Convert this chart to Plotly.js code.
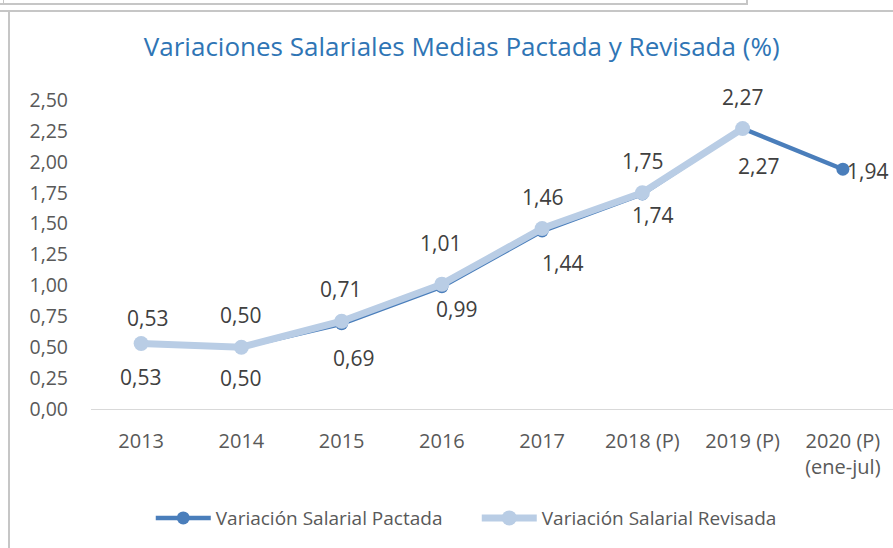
<!DOCTYPE html>
<html>
<head>
<meta charset="utf-8">
<script src="https://cdn.plot.ly/plotly-3.0.1.min.js"></script>
<style>
  html, body { margin: 0; padding: 0; background: #fff; }
  #wrap { position: relative; width: 893px; height: 548px; overflow: hidden; }
  #chart { position: absolute; left: 0; top: 0; width: 893px; height: 548px; }
  .bd { position: absolute; background: #c6c6c6; }
</style>
</head>
<body>
<div id="wrap">
  <div id="chart"></div>
  <div class="bd" style="left:0;top:3px;width:747px;height:2px;"></div>
  <div class="bd" style="left:746px;top:0;width:2px;height:5px;"></div>
  <div class="bd" style="left:3px;top:0;width:1px;height:5px;"></div>
  <div class="bd" style="left:0;top:10px;width:893px;height:2px;"></div>
  <div class="bd" style="left:8px;top:10px;width:2px;height:538px;"></div>
</div>
<script>
// ---- data ----
const categories = ["2013", "2014", "2015", "2016", "2017", "2018 (P)", "2019 (P)", "2020 (P)<br>(ene-jul)"];
const pactada   = [0.53, 0.50, 0.69, 0.99, 1.44, 1.74, 2.27, 1.94];
const revisada  = [0.53, 0.50, 0.71, 1.01, 1.46, 1.75, 2.27, null];
const yTicks = [0, 0.25, 0.5, 0.75, 1, 1.25, 1.5, 1.75, 2, 2.25, 2.5];
const seriesNames = ["Variación Salarial Pactada", "Variación Salarial Revisada"];
const titleText = "Variaciones Salariales Medias Pactada y Revisada (%)";

// ---- label placement (style) ----
const pactShift = [[-1,-34],[-1,-31],[12,-34],[15,-22],[20,-32],[10,-21],[16,-38],[25,-2]];
const revShift  = [[6,25],[-1,32],[-1,32],[-1,41],[0,32],[0,32],[0,31],null];

const fmt = v => v.toFixed(2).replace('.', ',');
const FONT = '"Open Sans", sans-serif';
const idx = categories.map((c, i) => i);

const annotations = [];
pactada.forEach((v, i) => {
  if (v == null) return;
  annotations.push({x: i, y: v, xref: 'x', yref: 'y', text: fmt(v), showarrow: false,
    xshift: pactShift[i][0], yshift: pactShift[i][1],
    font: {family: FONT, size: 21, color: '#404040'}});
});
revisada.forEach((v, i) => {
  if (v == null) return;
  annotations.push({x: i, y: v, xref: 'x', yref: 'y', text: fmt(v), showarrow: false,
    xshift: revShift[i][0], yshift: revShift[i][1],
    font: {family: FONT, size: 21, color: '#404040'}});
});

const traces = [
  {x: idx, y: pactada, name: seriesNames[0], type: 'scatter', mode: 'lines+markers',
   line: {color: '#4a7ebb', width: 4.5}, marker: {color: '#4a7ebb', size: 13},
   hoverinfo: 'skip', cliponaxis: false},
  {x: idx, y: revisada, name: seriesNames[1], type: 'scatter', mode: 'lines+markers',
   line: {color: '#b9cde5', width: 7}, marker: {color: '#b9cde5', size: 15},
   hoverinfo: 'skip', cliponaxis: false, connectgaps: false}
];

const layout = {
  width: 893, height: 548,
  margin: {l: 91, r: 0, t: 100, b: 139},
  paper_bgcolor: 'rgba(0,0,0,0)', plot_bgcolor: 'rgba(0,0,0,0)',
  font: {family: FONT, color: '#595959'},
  title: {text: titleText, x: 0.517, xref: 'container', xanchor: 'center',
          y: 1 - 47/548, yref: 'container', yanchor: 'middle',
          font: {family: FONT, size: 26, color: '#2f75b5'}},
  xaxis: {type: 'linear', range: [-0.5, 7.5], tickmode: 'array', tickvals: idx, ticktext: categories,
          showgrid: false, zeroline: false, showline: true, linecolor: '#d9d9d9', linewidth: 1,
          ticks: '', tickfont: {family: FONT, size: 20, color: '#595959'}, ticklabelstandoff: 14,
          fixedrange: true},
  yaxis: {range: [0, 2.5], tickmode: 'array', tickvals: yTicks, ticktext: yTicks.map(fmt),
          showgrid: false, zeroline: false, showline: false, ticks: '',
          tickfont: {family: FONT, size: 19.5, color: '#595959'}, ticklabelstandoff: 22,
          fixedrange: true},
  showlegend: true,
  legend: {orientation: 'h', x: 0.481, xanchor: 'center', y: -0.353, yanchor: 'middle',
           font: {family: FONT, size: 19, color: '#595959'}, itemwidth: 55,
           entrywidth: 256, entrywidthmode: 'pixels',
           traceorder: 'normal', bgcolor: 'rgba(0,0,0,0)'},
  annotations: annotations
};

Plotly.newPlot('chart', traces, layout, {staticPlot: true, displayModeBar: false});
</script>
</body>
</html>
